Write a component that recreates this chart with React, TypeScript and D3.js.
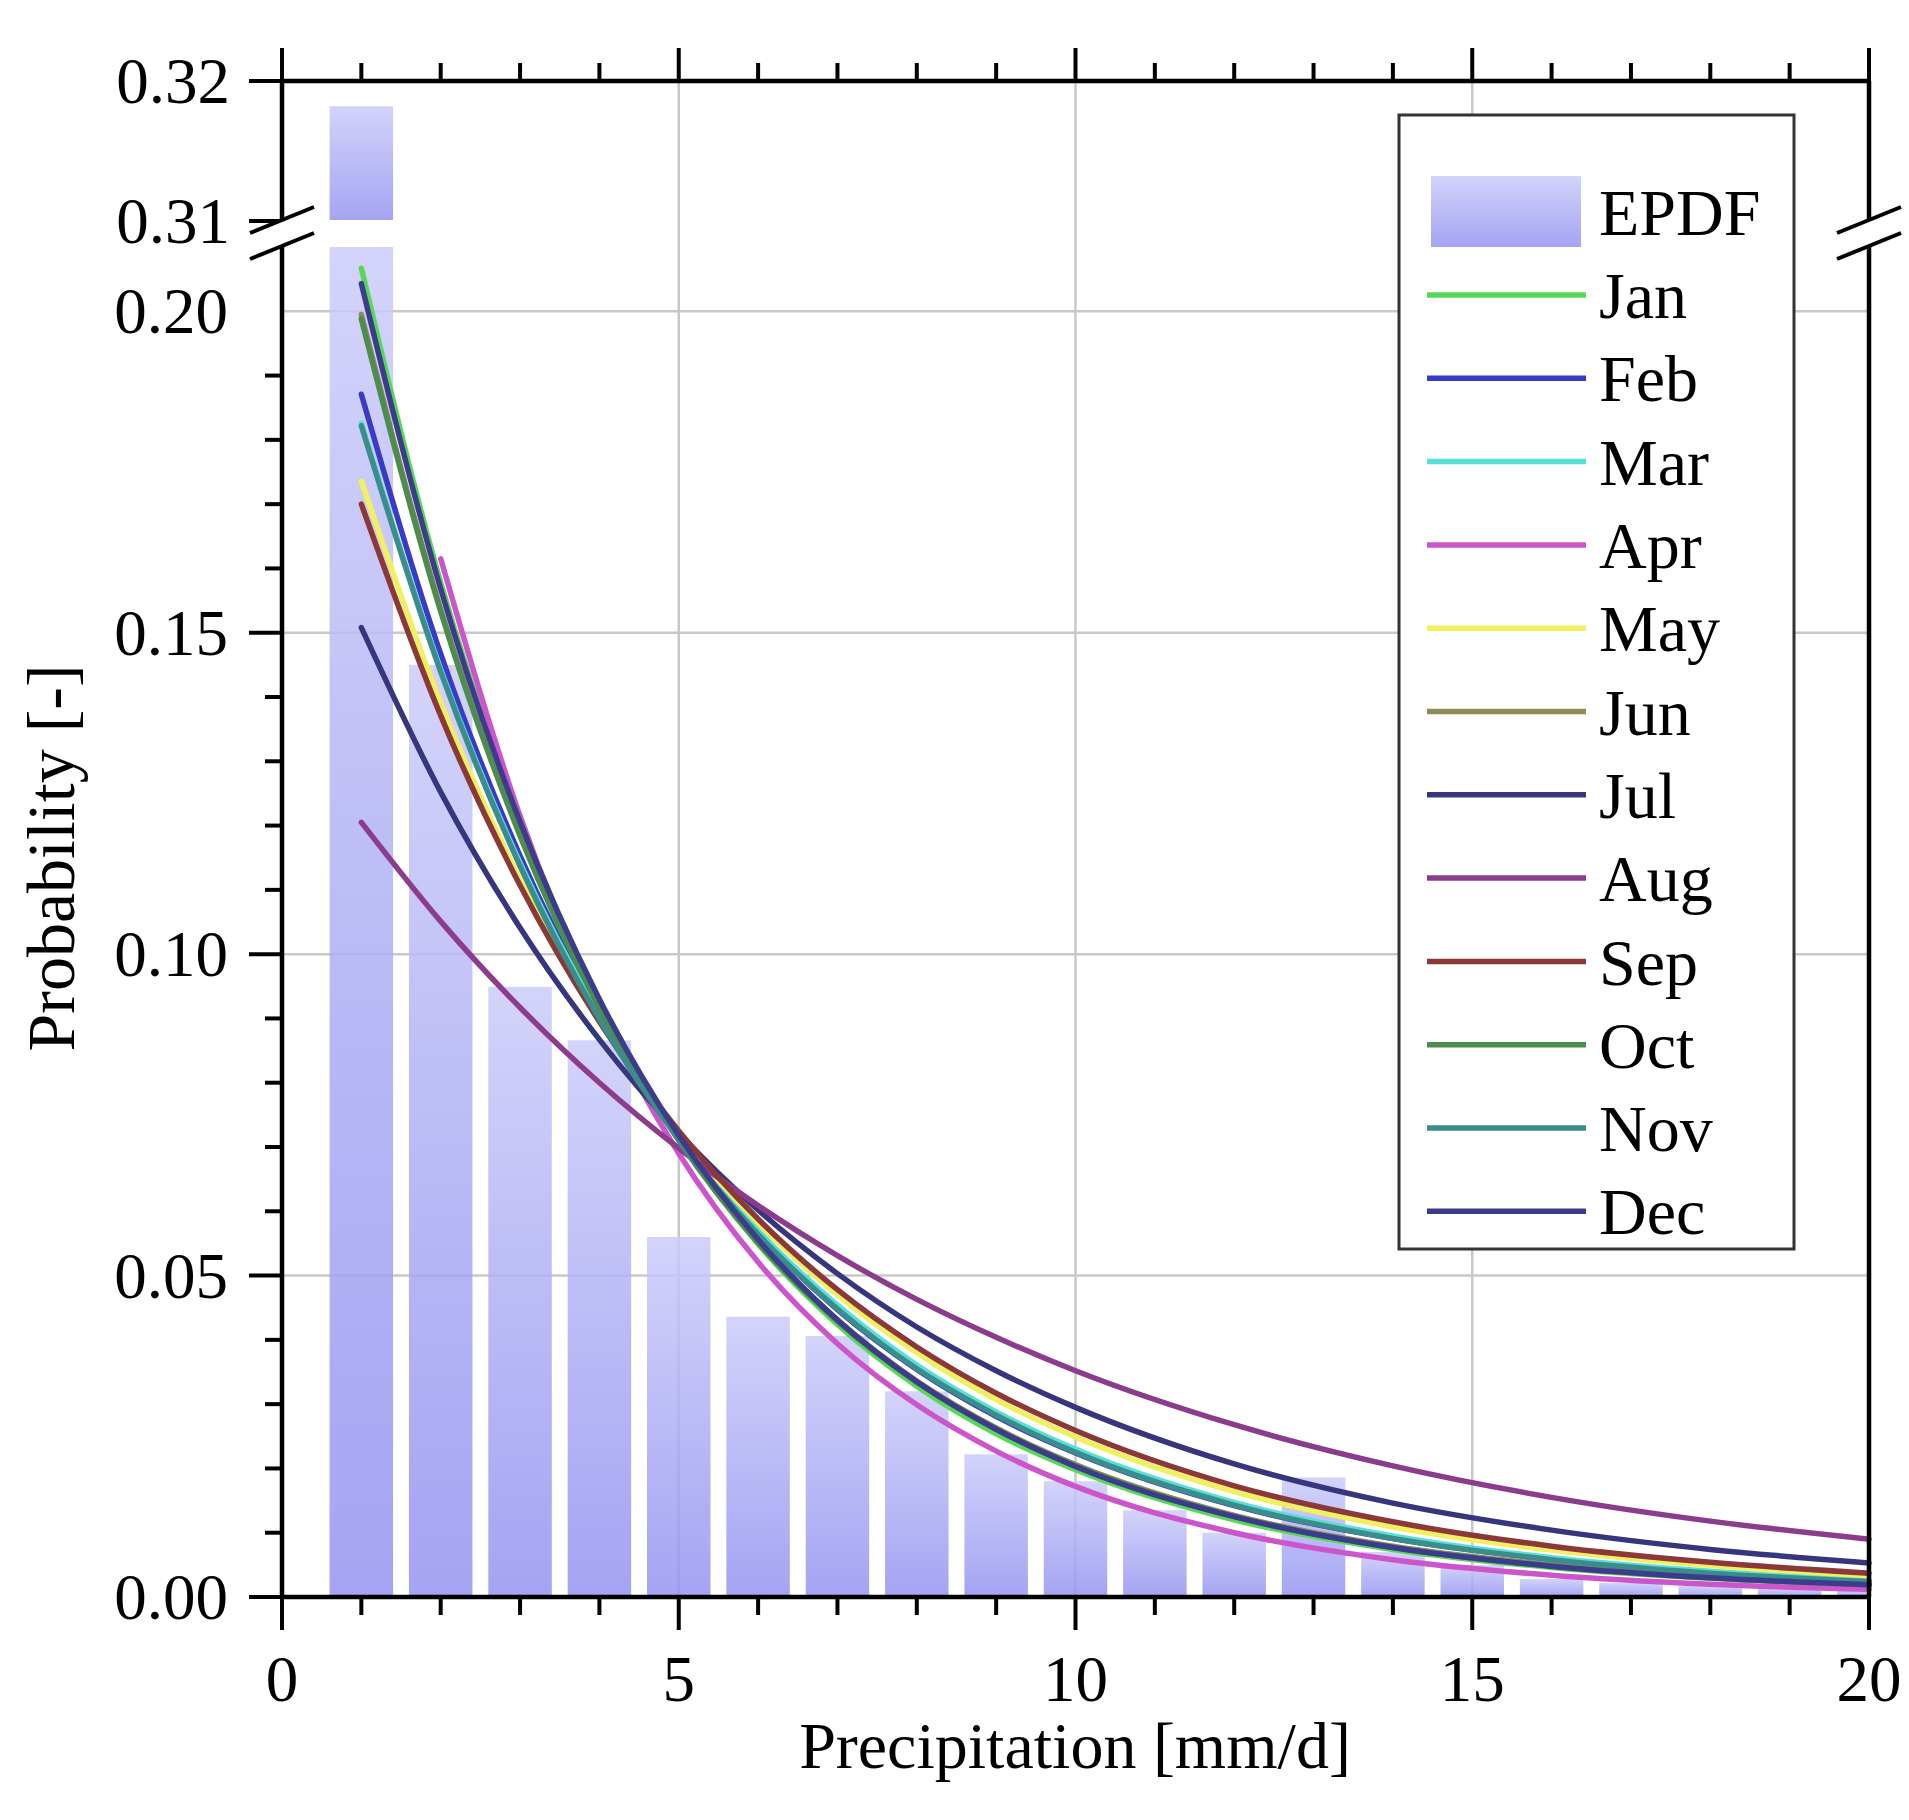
import * as d3 from 'd3';
import { useEffect, useRef } from 'react';

// monthly fitted PDFs
const months = ['Jan', 'Feb', 'Mar', 'Apr', 'May', 'Jun', 'Jul', 'Aug', 'Sep', 'Oct', 'Nov', 'Dec'];
const monthColors = ['#58d858', '#3a3ac8', '#55e0d8', '#cc55cc', '#f0f060', '#8c8c58', '#36367e', '#8c3c8c', '#8c3838', '#4c8c4c', '#3c8c8c', '#3c3c8c'];

const xPoints = [1, 2, 3, 4, 5, 6, 7, 8, 9, 10, 12, 14, 16, 18, 20];
const aprPoints = [2, 3, 4, 5, 6, 7, 8, 9, 10, 12, 14, 16, 18, 20];

const jan = [0.2067, 0.1578, 0.1208, 0.0926, 0.0712, 0.0549, 0.0424, 0.0328, 0.0254, 0.0198, 0.0120, 0.0074, 0.0046, 0.0029, 0.0018];
const feb = [0.1871, 0.1467, 0.1153, 0.0907, 0.0715, 0.0565, 0.0447, 0.0354, 0.0281, 0.0224, 0.0142, 0.0091, 0.0059, 0.0038, 0.0025];
const mar = [0.1826, 0.1443, 0.1142, 0.0905, 0.0718, 0.0570, 0.0454, 0.0361, 0.0288, 0.0230, 0.0147, 0.0095, 0.0061, 0.0040, 0.0026];
const apr = [0.1615, 0.1215, 0.0915, 0.0690, 0.0521, 0.0394, 0.0299, 0.0227, 0.0172, 0.0100, 0.0058, 0.0034, 0.0020, 0.0012];
const may = [0.1736, 0.1391, 0.1116, 0.0897, 0.0722, 0.0582, 0.0470, 0.0380, 0.0307, 0.0249, 0.0164, 0.0109, 0.0073, 0.0049, 0.0033];
const jun = [0.1995, 0.1537, 0.1187, 0.0918, 0.0712, 0.0553, 0.0431, 0.0336, 0.0263, 0.0206, 0.0127, 0.0079, 0.0050, 0.0031, 0.0020];
const jul = [0.1508, 0.1252, 0.1041, 0.0867, 0.0722, 0.0602, 0.0503, 0.0420, 0.0352, 0.0295, 0.0207, 0.0146, 0.0104, 0.0074, 0.0053];
const aug = [0.1205, 0.1051, 0.0917, 0.0800, 0.0698, 0.0609, 0.0531, 0.0463, 0.0404, 0.0352, 0.0268, 0.0204, 0.0155, 0.0118, 0.0090];
const sep = [0.1700, 0.1371, 0.1107, 0.0895, 0.0725, 0.0588, 0.0478, 0.0389, 0.0317, 0.0259, 0.0173, 0.0117, 0.0079, 0.0054, 0.0037];
const oct = [0.1988, 0.1533, 0.1184, 0.0916, 0.0710, 0.0551, 0.0429, 0.0334, 0.0261, 0.0204, 0.0125, 0.0077, 0.0048, 0.0030, 0.0019];
const nov = [0.1822, 0.1439, 0.1137, 0.0899, 0.0712, 0.0564, 0.0448, 0.0355, 0.0283, 0.0225, 0.0143, 0.0091, 0.0058, 0.0037, 0.0024];
const dec = [0.2043, 0.1568, 0.1206, 0.0930, 0.0718, 0.0556, 0.0431, 0.0335, 0.0261, 0.0203, 0.0125, 0.0077, 0.0048, 0.0030, 0.0019];

// empirical PDF bars
const binCenters = [1, 2, 3, 4, 5, 6, 7, 8, 9, 10, 11, 12, 13, 14, 15, 16, 17, 18, 19, 20];
const epdf = [0.3182, 0.145, 0.0949, 0.0866, 0.0560, 0.0436, 0.0406, 0.0320, 0.0222, 0.0180, 0.0135, 0.0100, 0.0186, 0.0070, 0.0050, 0.0028, 0.0022, 0.0017, 0.0014, 0.0010];

const xMajor = [0, 5, 10, 15, 20];
const xLabels = ['0', '5', '10', '15', '20'];
const yMajorLow = [0, 0.05, 0.1, 0.15, 0.2];
const yLabelsLow = ['0.00', '0.05', '0.10', '0.15', '0.20'];
const yMajorHigh = [0.31, 0.32];
const yLabelsHigh = ['0.31', '0.32'];

function PdfChart() {
    const ref = useRef<SVGSVGElement>(null);

    useEffect(() => {
        const svg = d3.select(ref.current);
        svg.selectAll('*').remove();

        const left = 282, right = 1869, top = 81, bottom = 1597;
        const gapTop = 220, gapBottom = 246;
        const font = '"Liberation Serif", "Times New Roman", serif';

        const x = d3.scaleLinear().domain([0, 20]).range([left, right]);
        const yLow = d3.scaleLinear().domain([0, 0.21]).range([bottom, 247]);
        const yHigh = d3.scaleLinear().domain([0.31, 0.32]).range([221, top]);

        const defs = svg.append('defs');
        const grad = defs.append('linearGradient')
            .attr('id', 'barGrad')
            .attr('x1', 0).attr('y1', 0).attr('x2', 0).attr('y2', 1);
        grad.append('stop').attr('offset', '0%').attr('stop-color', '#cbcbfa');
        grad.append('stop').attr('offset', '100%').attr('stop-color', '#9494f0');
        defs.append('clipPath').attr('id', 'plotClip')
            .append('rect')
            .attr('x', left).attr('y', top)
            .attr('width', right - left).attr('height', bottom - top);

        // grid
        const grid = svg.append('g').attr('stroke', '#c8c8c8').attr('stroke-width', 2.5);
        [5, 10, 15].forEach(v => {
            grid.append('line').attr('x1', x(v)).attr('x2', x(v)).attr('y1', top).attr('y2', bottom);
        });
        [0.05, 0.1, 0.15, 0.2].forEach(v => {
            grid.append('line').attr('x1', left).attr('x2', right).attr('y1', yLow(v)).attr('y2', yLow(v));
        });

        // bars
        const bars = svg.append('g').attr('clip-path', 'url(#plotClip)')
            .attr('fill', 'url(#barGrad)').attr('fill-opacity', 0.85);
        const bw = x(0.8) - x(0);
        binCenters.forEach((c, i) => {
            const v = epdf[i];
            const lowTop = yLow(Math.min(v, 0.21));
            bars.append('rect')
                .attr('x', x(c) - bw / 2).attr('width', bw)
                .attr('y', lowTop).attr('height', bottom - lowTop);
            if (v > 0.21) {
                bars.append('rect')
                    .attr('x', x(c) - bw / 2).attr('width', bw)
                    .attr('y', yHigh(v)).attr('height', gapTop - yHigh(v));
            }
        });

        // fitted curves
        const series = [jan, feb, mar, apr, may, jun, jul, aug, sep, oct, nov, dec];
        const line = d3.line<[number, number]>()
            .x(d => x(d[0]))
            .y(d => yLow(d[1]))
            .curve(d3.curveMonotoneX);
        series.forEach((vals, i) => {
            const xs = months[i] === 'Apr' ? aprPoints : xPoints;
            const pts = xs.map((xv, j) => [xv, vals[j]] as [number, number]);
            svg.append('path')
                .datum(pts)
                .attr('fill', 'none')
                .attr('stroke', monthColors[i])
                .attr('stroke-width', 5.5)
                .attr('stroke-linecap', 'round')
                .attr('d', line);
        });

        // legend
        const lg = svg.append('g');
        lg.append('rect')
            .attr('x', 1399).attr('y', 115).attr('width', 395).attr('height', 1134)
            .attr('fill', '#fff').attr('stroke', '#333').attr('stroke-width', 3);
        lg.append('rect')
            .attr('x', 1431).attr('y', 176).attr('width', 150).attr('height', 71)
            .attr('fill', 'url(#barGrad)').attr('fill-opacity', 0.85);
        lg.append('text')
            .attr('x', 1599).attr('y', 211.5).attr('dy', '0.35em')
            .attr('font-family', font).attr('font-size', 66)
            .text('EPDF');
        months.forEach((m, i) => {
            const ly = 295 + i * 83.3;
            lg.append('line')
                .attr('x1', 1427).attr('x2', 1586).attr('y1', ly).attr('y2', ly)
                .attr('stroke', monthColors[i]).attr('stroke-width', 5.5);
            lg.append('text')
                .attr('x', 1599).attr('y', ly).attr('dy', '0.35em')
                .attr('font-family', font).attr('font-size', 66)
                .text(m);
        });

        // axes frame
        const ax = svg.append('g').attr('stroke', '#000').attr('stroke-width', 4.5).attr('fill', 'none');
        ax.append('line').attr('x1', left).attr('x2', right).attr('y1', top).attr('y2', top);
        ax.append('line').attr('x1', left).attr('x2', right).attr('y1', bottom).attr('y2', bottom);
        [left, right].forEach(xx => {
            ax.append('line').attr('x1', xx).attr('x2', xx).attr('y1', top).attr('y2', gapTop);
            ax.append('line').attr('x1', xx).attr('x2', xx).attr('y1', gapBottom).attr('y2', bottom);
        });

        // ticks
        const tk = svg.append('g').attr('stroke', '#000').attr('stroke-width', 4);
        d3.range(0, 21).forEach(v => {
            const len = v % 5 === 0 ? 33 : 18;
            tk.append('line').attr('x1', x(v)).attr('x2', x(v)).attr('y1', bottom).attr('y2', bottom + len);
            tk.append('line').attr('x1', x(v)).attr('x2', x(v)).attr('y1', top).attr('y2', top - len);
        });
        d3.range(0, 20).forEach(k => {
            const v = k / 100;
            const len = k % 5 === 0 ? 33 : 17;
            tk.append('line').attr('x1', left - len).attr('x2', left).attr('y1', yLow(v)).attr('y2', yLow(v));
        });
        yMajorHigh.forEach(v => {
            tk.append('line').attr('x1', left - 33).attr('x2', left).attr('y1', yHigh(v)).attr('y2', yHigh(v));
        });

        // axis breaks
        [left, right].forEach(cx => {
            const br = svg.append('g');
            br.append('polygon')
                .attr('points', [
                    [cx - 32, gapTop + 13], [cx + 32, gapTop - 13],
                    [cx + 32, gapBottom - 13], [cx - 32, gapBottom + 13]
                ].map(p => p.join(',')).join(' '))
                .attr('fill', '#fff');
            [gapTop, gapBottom].forEach(gy => {
                br.append('line')
                    .attr('x1', cx - 32).attr('y1', gy + 13)
                    .attr('x2', cx + 32).attr('y2', gy - 13)
                    .attr('stroke', '#000').attr('stroke-width', 4);
            });
        });

        // tick labels
        const lbl = svg.append('g').attr('font-family', font).attr('font-size', 65).attr('fill', '#000');
        xMajor.forEach((v, i) => {
            lbl.append('text').attr('x', x(v)).attr('y', 1701)
                .attr('text-anchor', 'middle').text(xLabels[i]);
        });
        yMajorLow.forEach((v, i) => {
            lbl.append('text').attr('x', 228).attr('y', yLow(v)).attr('dy', '0.34em')
                .attr('text-anchor', 'end').text(yLabelsLow[i]);
        });
        yMajorHigh.forEach((v, i) => {
            lbl.append('text').attr('x', 230).attr('y', yHigh(v)).attr('dy', '0.34em')
                .attr('text-anchor', 'end').text(yLabelsHigh[i]);
        });

        // axis titles
        svg.append('text')
            .attr('x', 1075).attr('y', 1768)
            .attr('text-anchor', 'middle')
            .attr('font-family', font).attr('font-size', 66)
            .text('Precipitation [mm/d]');
        svg.append('text')
            .attr('transform', 'translate(74, 858) rotate(-90)')
            .attr('text-anchor', 'middle')
            .attr('font-family', font).attr('font-size', 68)
            .text('Probability [-]');
    }, []);

    return (
        <svg ref={ref} width={1909} height={1820}
            style={{ position: 'absolute', left: 0, top: 0, background: '#fff' }} />
    );
}

export default function App() {
    return <PdfChart />;
}
